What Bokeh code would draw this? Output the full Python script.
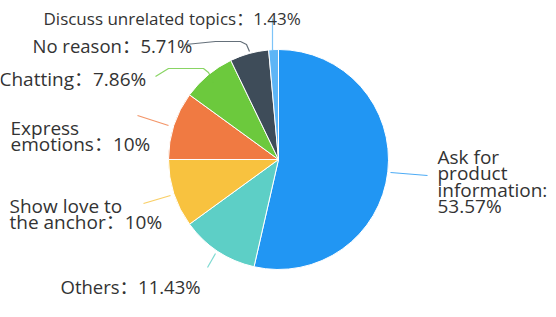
import numpy as np
from bokeh.plotting import figure
from bokeh.models import Range1d, ColumnDataSource
from bokeh.core.properties import value
from bokeh.embed import file_html
from bokeh.resources import INLINE

# ---- data ----
names = ["Ask for\nproduct\ninformation", "Others", "Show love to\nthe anchor",
         "Express\nemotions", "Chatting", "No reason", "Discuss unrelated topics"]
percents = [53.57, 11.43, 10, 10, 7.86, 5.71, 1.43]
seps = [":\n", "：", "：", "：", "：", "：", "："]
colors = ["#2196f3", "#5dcfc6", "#f8c23f", "#f07a42", "#6cc93d", "#3e4c59", "#5db5f6"]

W, H = 556, 317
p = figure(width=W, height=H, output_backend="svg", toolbar_location=None,
           x_range=Range1d(0, W), y_range=Range1d(0, H), min_border=0)
p.axis.visible = False
p.grid.visible = False
p.outline_line_color = None
p.background_fill_color = "white"
p.border_fill_color = "white"

def Y(y):
    return H - y

cx, cy, r = 278, Y(159), 110
frac = np.array(percents) / sum(percents)
cum = np.concatenate([[0], np.cumsum(frac)])
starts = np.pi / 2 - 2 * np.pi * cum[:-1]
ends = np.pi / 2 - 2 * np.pi * cum[1:]
src = ColumnDataSource(dict(x=[cx] * len(percents), y=[cy] * len(percents),
                            s=list(starts), e=list(ends), c=colors))
p.wedge(x="x", y="y", radius=r, start_angle="s", end_angle="e", direction="clock",
        fill_color="c", line_color="white", line_width=1, source=src)

# leader lines (screen coords, top-left origin)
leaders = [
    [(390, 172), (427, 175)],
    [(215, 253), (207, 267)],
    [(170, 195), (143, 203)],
    [(168, 125), (137, 115)],
    [(213, 82), (208, 72), (203, 68), (168, 68), (155, 76)],
    [(249, 51), (246, 44), (240, 41), (215, 41), (185, 44)],
    [(272, 50), (272, 18)],
]
for pts, col in zip(leaders, colors):
    p.line([q[0] for q in pts], [Y(q[1]) for q in pts], line_color=col, line_width=1.2,
           line_alpha=0.8)

# labels (left x, first baseline, font size)
label_pos = [(437, 156), (60, 286), (9, 205), (10, 127), (-1, 78), (32, 45), (43, 18)]
label_size = [19, 18.5, 19, 19, 19, 18.5, 17]
lh = 16.5
tx, ty, tt, ts = [], [], [], []
for n, v, sp, (lx, ly), fs in zip(names, percents, seps, label_pos, label_size):
    txt = n + sp + "{:g}%".format(v)
    for i, line in enumerate(txt.split("\n")):
        tx.append(lx)
        ty.append(Y(ly + i * lh))
        tt.append(line)
        ts.append("%gpx" % fs)
p.text(x=tx, y=ty, text=tt, text_font=value("'Open Sans', 'Noto Sans CJK SC'"),
       text_font_size=ts, text_color="#333333", text_baseline="alphabetic",
       text_align="left")

open("out.html", "w").write(file_html(p, INLINE))
